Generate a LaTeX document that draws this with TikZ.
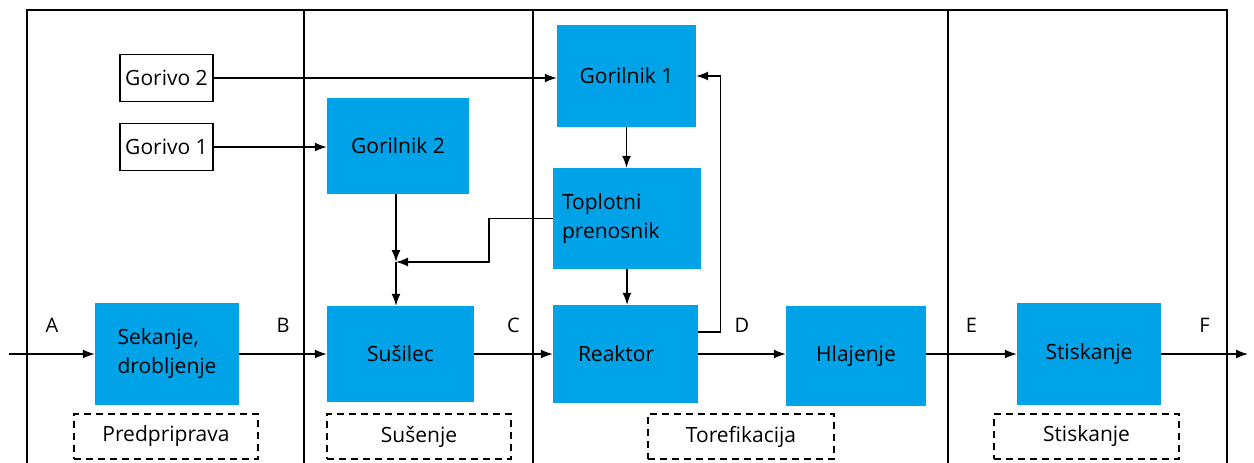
\documentclass[tikz,border=0pt]{standalone}
\usepackage{fontspec}
\setmainfont{Open Sans}
\usetikzlibrary{arrows.meta}
\definecolor{procblue}{RGB}{0,162,232}

\begin{document}
\begin{tikzpicture}[x=1pt,y=-1pt,
  proc/.style={fill=procblue,inner sep=0pt,font=\fontsize{21}{29}\selectfont},
  fuel/.style={draw,line width=1.4pt,inner sep=0pt,minimum width=93pt,minimum height=47pt,font=\fontsize{21}{29}\selectfont},
  phase/.style={draw,dashed,dash pattern=on 7pt off 5pt,line width=1.3pt,minimum width=184pt,minimum height=45pt,font=\fontsize{21}{26}\selectfont}]
\useasboundingbox (0,0) rectangle (1254,463);
% frame of the four phases
\draw[line width=1.4pt] (27,463) |- (1227,10) -- (1227,463);
\foreach \x in {304,533,948}
  \draw[line width=1.4pt] (\x,10) -- (\x,463);
\node[fuel] (g2) at (166.5,78) {Gorivo 2};
\node[fuel] (g1) at (166.5,147) {Gorivo 1};
\node[proc,minimum width=139pt,minimum height=102pt] (gl1) at (626.5,76) {Gorilnik 1};
\node[proc,minimum width=142pt,minimum height=96pt] (gl2) at (398,146) {Gorilnik 2};
\node[proc,minimum width=148pt,minimum height=101pt,text width=130pt,align=left,inner xsep=9pt] (tp) at (627,218.5) {Toplotni\\prenosnik};
\node[proc,minimum width=144pt,minimum height=102pt,align=left] (sek) at (167,354) {Sekanje,\\drobljenje};
\node[proc,minimum width=147pt,minimum height=96pt] (sus) at (400.5,354) {Sušilec};
\node[proc,minimum width=145pt,minimum height=98pt,text width=95pt,align=left,inner xsep=25pt] (rea) at (625.5,354) {Reaktor};
\node[proc,minimum width=140pt,minimum height=100pt] (hla) at (856,356) {Hlajenje};
\node[proc,minimum width=144pt,minimum height=102pt] (sti) at (1089,354) {Stiskanje};
% phase names
\node[phase] (pp) at (166,436.5) {Predpriprava};
\node[phase] (su) at (419,436.5) {Sušenje};
\node[phase,minimum width=186pt] (to) at (741,436.5) {Torefikacija};
\node[phase,minimum width=185pt] (st) at (1086.5,436.5) {Stiskanje};
\coordinate (in) at (9,354);
\coordinate (out) at (1248,354);
\coordinate (j) at (396,262);
\path[->,line width=1.4pt,>={Latex[length=12pt,width=9pt]},font=\fontsize{20}{24}\selectfont]
(in) edge node[above=17pt] {A} (sek)
(sek) edge node[above=17pt] {B} (sus)
(sus) edge node[above=17pt] {C} (rea)
(rea) edge node[above=17pt] {D} (rea.east -| hla.west)
(rea.east -| hla.east) edge node[above=17pt] {E} (sti)
(sti) edge node[above=17pt] {F} (out)
(g2.east) edge (g2.east -| gl1.west)
(g1.east) edge (g1.east -| gl2.west)
(gl1.south) edge (gl1.south |- tp.north)
(tp.south) edge (tp.south |- rea.north)
(gl2.south -| j) edge (j)
(j) edge (j |- sus.north)
;
\draw[->,line width=1.4pt,>={Latex[length=12pt,width=9pt]}] (tp.west) -- ++(-64,0) |- (j);
\draw[->,line width=1.4pt,>={Latex[length=12pt,width=9pt]}] ([yshift=22pt]rea.east) -- ++(22,0) |- (gl1.east);
\end{tikzpicture}
\end{document}
